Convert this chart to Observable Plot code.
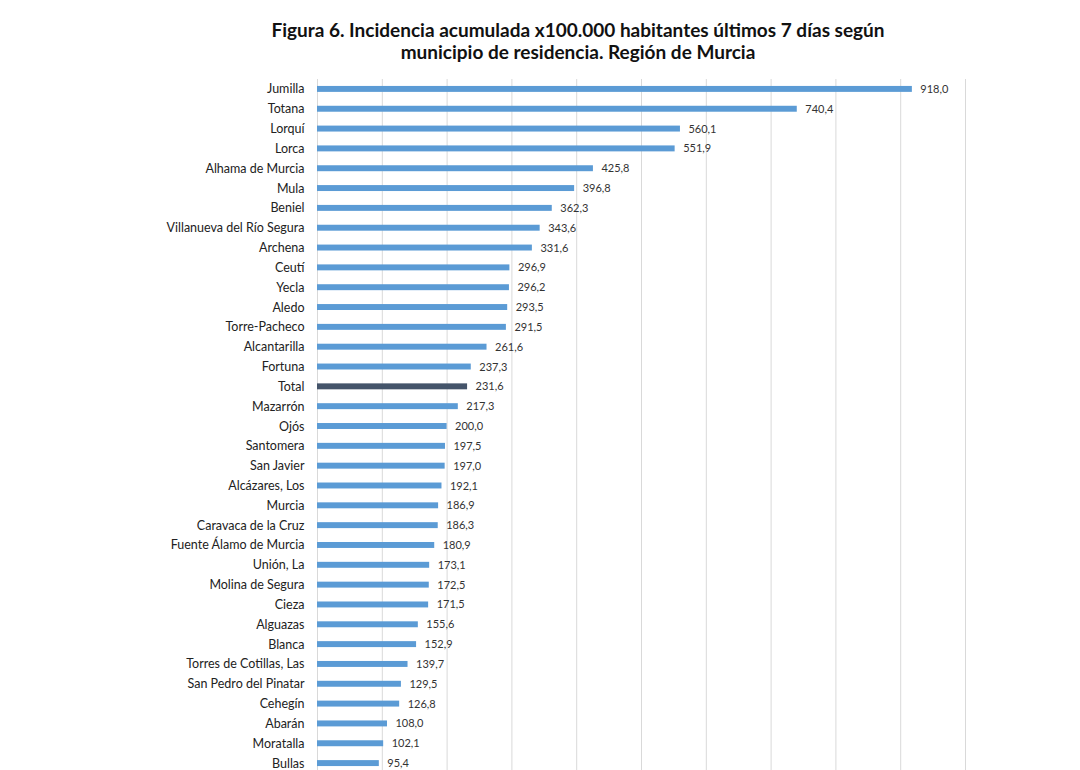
<!DOCTYPE html>
<html>
<head>
<meta charset="utf-8">
<script src="https://cdn.jsdelivr.net/npm/d3@7"></script>
<script src="https://cdn.jsdelivr.net/npm/@observablehq/plot@0.6"></script>
<style>
  html, body { margin: 0; padding: 0; background: #fff; }
  #title {
    height: 70px; box-sizing: border-box; padding-top: 19px; padding-left: 76px;
    text-align: center; font-family: Lato, "Open Sans", sans-serif; font-weight: bold;
    font-size: 19px; line-height: 22px; color: #111;
  }
  #chart svg { display: block; }
</style>
</head>
<body>
<div id="title">Figura 6. Incidencia acumulada x100.000 habitantes últimos 7 días según<br>municipio de residencia. Región de Murcia</div>
<div id="chart"></div>
<script>
const municipios = ["Jumilla","Totana","Lorquí","Lorca","Alhama de Murcia","Mula","Beniel","Villanueva del Río Segura","Archena","Ceutí","Yecla","Aledo","Torre-Pacheco","Alcantarilla","Fortuna","Total","Mazarrón","Ojós","Santomera","San Javier","Alcázares, Los","Murcia","Caravaca de la Cruz","Fuente Álamo de Murcia","Unión, La","Molina de Segura","Cieza","Alguazas","Blanca","Torres de Cotillas, Las","San Pedro del Pinatar","Cehegín","Abarán","Moratalla","Bullas"];
const incidencia = [918.0,740.4,560.1,551.9,425.8,396.8,362.3,343.6,331.6,296.9,296.2,293.5,291.5,261.6,237.3,231.6,217.3,200.0,197.5,197.0,192.1,186.9,186.3,180.9,173.1,172.5,171.5,155.6,152.9,139.7,129.5,126.8,108.0,102.1,95.4];
const gridTicks = [0,100,200,300,400,500,600,700,800,900,1000];

const data = municipios.map((m, i) => ({municipio: m, valor: incidencia[i]}));
const fmt = v => v.toFixed(1).replace(".", ",");

const chart = Plot.plot({
  width: 1080,
  height: 723,
  marginTop: 9,
  marginBottom: 20,
  marginLeft: 317,
  marginRight: 115,
  style: {fontFamily: "Lato, 'Open Sans', sans-serif", background: "#fff"},
  x: {domain: [0, 1000], axis: null},
  y: {domain: municipios, paddingInner: 0.7, paddingOuter: 0.35, round: false, label: null},
  marks: [
    Plot.ruleX(gridTicks, {stroke: "#d9d9d9", strokeWidth: 1}),
    Plot.barX(data, {x: "valor", y: "municipio", fill: d => d.municipio === "Total" ? "#44546A" : "#5B9BD5"}),
    Plot.text(data, {x: "valor", y: "municipio", text: d => fmt(d.valor), dx: 8, textAnchor: "start", fontSize: 11, fill: "#333"}),
    Plot.axisY({tickSize: 0, tickPadding: 13, fontSize: 12.5, fill: "#222", label: null})
  ]
});
document.getElementById("chart").appendChild(chart);
</script>
</body>
</html>
